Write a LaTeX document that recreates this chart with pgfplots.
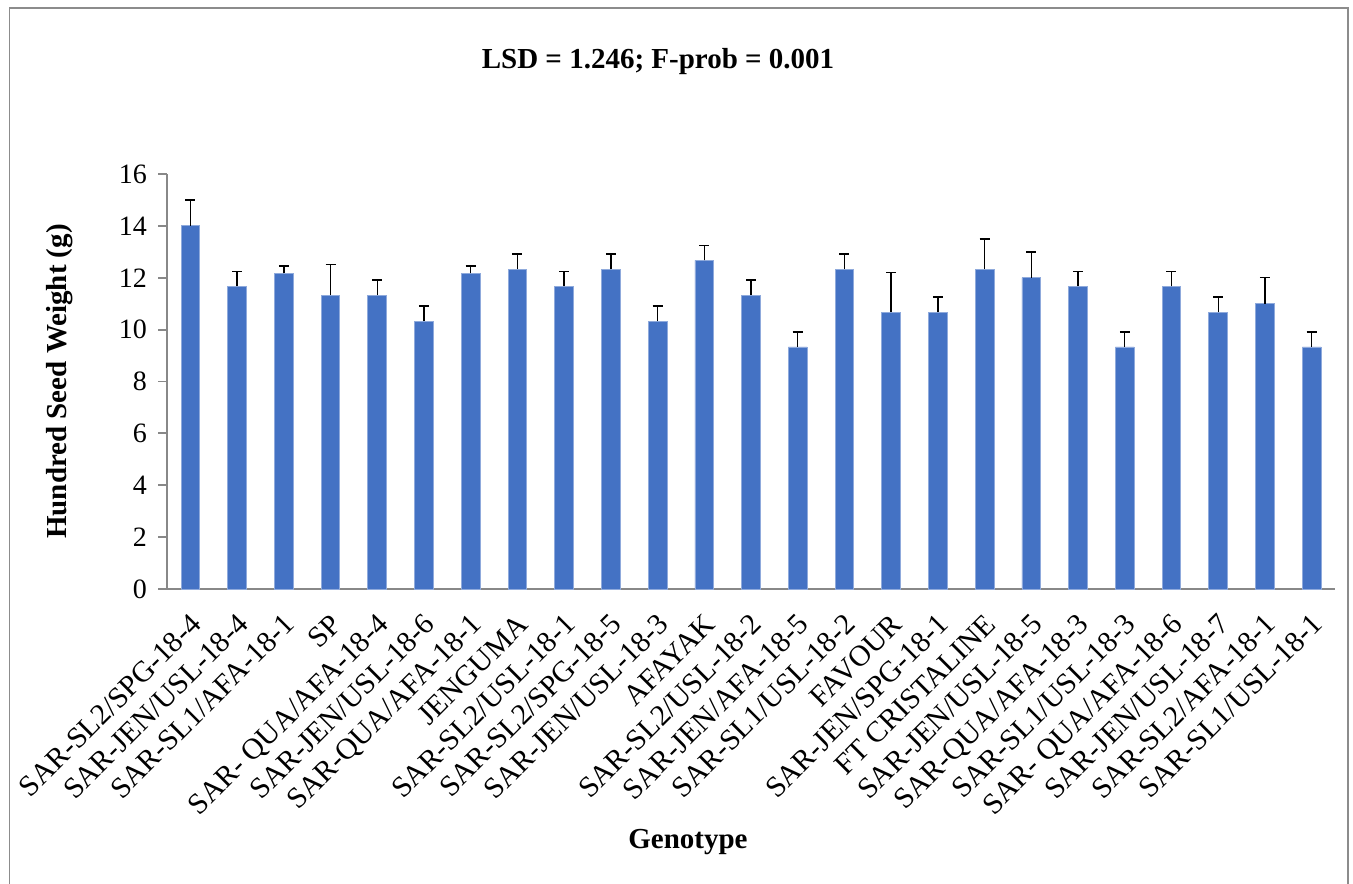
\documentclass[border=0pt]{standalone}
\usepackage{pgfplots}
\pgfplotsset{compat=1.18}
\usepackage{pgfplotstable}
\usepackage{fontspec}
\setmainfont{Liberation Serif}
\definecolor{barblue}{HTML}{4472C4}
\definecolor{axgray}{HTML}{888888}
\definecolor{framegray}{HTML}{8C8C8C}
\pgfplotstableread{
x y e
0 14.00 1.00
1 11.67 0.58
2 12.17 0.29
3 11.33 1.17
4 11.33 0.58
5 10.33 0.58
6 12.17 0.29
7 12.33 0.58
8 11.67 0.58
9 12.33 0.58
10 10.33 0.58
11 12.67 0.58
12 11.33 0.58
13 9.33 0.58
14 12.33 0.58
15 10.67 1.53
16 10.67 0.58
17 12.33 1.16
18 12.00 1.00
19 11.67 0.58
20 9.33 0.58
21 11.67 0.58
22 10.67 0.58
23 11.00 1.00
24 9.33 0.58
}\datatable
\begin{document}
\begin{tikzpicture}[font=\fontsize{14}{16}\selectfont]
\useasboundingbox (0,0) rectangle (676.5pt,441.5pt);
\draw[framegray, line width=0.8pt] (4.75pt,-5pt) -- (4.75pt,437.5pt) -- (673.85pt,437.5pt) -- (673.85pt,-5pt);
\begin{axis}[
  at={(83.5pt,147pt)}, anchor=south west,
  scale only axis, width=584pt, height=207.5pt,
  xmin=-0.5, xmax=24.5, ymin=0, ymax=16,
  ytick={0,2,...,16},
  xtick={0,...,24},
  xticklabels={SAR-SL2/SPG-18-4,SAR-JEN/USL-18-4,SAR-SL1/AFA-18-1,SP,SAR- QUA/AFA-18-4,SAR-JEN/USL-18-6,SAR-QUA/AFA-18-1,JENGUMA,SAR-SL2/USL-18-1,SAR-SL2/SPG-18-5,SAR-JEN/USL-18-3,AFAYAK,SAR-SL2/USL-18-2,SAR-JEN/AFA-18-5,SAR-SL1/USL-18-2,FAVOUR,SAR-JEN/SPG-18-1,FT CRISTALINE,SAR-JEN/USL-18-5,SAR-QUA/AFA-18-3,SAR-SL1/USL-18-3,SAR- QUA/AFA-18-6,SAR-JEN/USL-18-7,SAR-SL2/AFA-18-1,SAR-SL1/USL-18-1},
  minor xtick={-0.5,0.5,...,24.5},
  axis lines=left,
  axis line style={-, axgray, line width=0.9pt},
  tick align=outside,
  xtick style={draw=none},
  minor x tick style={axgray, line width=0.9pt},
  minor tick length=4pt,
  ytick style={axgray, line width=0.9pt},
  major tick length=4.5pt,
  /pgf/number format/assume math mode=true,
  tick label style={font=\fontsize{14}{16}\selectfont, text=black},
  yticklabel style={xshift=-2pt},
  xticklabel style={font=\fontsize{14.8}{16}\selectfont, inner sep=0pt, xshift=-0.75pt, yshift=-7pt, rotate=45, anchor=north east},
  ybar, bar width=0.4,
  clip=false,
]
\addplot[fill=barblue, draw=barblue!60!white, line width=0.4pt,
  error bars/.cd, y dir=plus, y explicit,
  error bar style={black, line width=0.7pt},
  error mark options={rotate=90, black, line width=0.7pt, mark size=2.5pt}]
  table[x=x, y=y, y error=e] {\datatable};
\end{axis}
\node[anchor=base, font=\fontsize{14.5}{16}\selectfont\bfseries] at (329pt,407pt) {LSD = 1.246; F-prob = 0.001};
\node[anchor=base, font=\fontsize{14.5}{16}\selectfont\bfseries] at (344pt,17.5pt) {Genotype};
\node[anchor=base, rotate=90, font=\fontsize{14.5}{16}\selectfont\bfseries] at (33pt,250.75pt) {Hundred Seed Weight (g)};
\end{tikzpicture}
\end{document}
